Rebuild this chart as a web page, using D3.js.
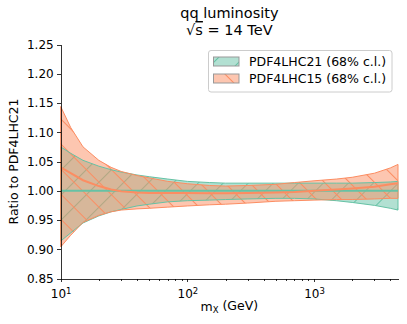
<!DOCTYPE html>
<meta charset="utf-8">
<style>
body { margin: 0; background: white; font-family: "DejaVu Sans", sans-serif; }
.axis path,
.axis line {
  fill: none;
  stroke: black;
  stroke-width: 0.8;
  shape-rendering: crispEdges;
}
.axis text { font-family: "DejaVu Sans", sans-serif; font-size: 12px; fill: black; }
</style>
<script src="https://d3js.org/d3.v7.min.js"></script>
<body>
<div id="chart"></div>
<script>
// invariant mass grid (GeV)
var mass = [10, 12, 15, 20, 25, 30, 40, 50, 70, 100, 150, 200, 300, 500, 700, 1000, 1500, 2000, 3000, 4000, 4600];

// PDF4LHC21, ratio to itself
var pdf21Central = [1, 1, 1, 1, 1, 1, 1, 1, 1, 1, 1, 1, 1, 1, 1, 1, 1, 1, 1, 1, 1];
var pdf21Upper = [1.075, 1.064, 1.052, 1.042, 1.036, 1.032, 1.027, 1.024, 1.020, 1.016, 1.014, 1.013, 1.013, 1.013, 1.013, 1.013, 1.013, 1.013, 1.014, 1.015, 1.016];
var pdf21Lower = [0.914, 0.928, 0.945, 0.957, 0.964, 0.968, 0.974, 0.977, 0.981, 0.983, 0.984, 0.985, 0.986, 0.987, 0.987, 0.986, 0.983, 0.980, 0.975, 0.970, 0.967];

// PDF4LHC15, ratio to PDF4LHC21
var pdf15Central = [1.040, 1.030, 1.018, 1.008, 1.002, 0.999, 0.997, 0.996, 0.996, 0.996, 0.9957, 0.9957, 0.996, 0.997, 0.998, 1.000, 1.002, 1.004, 1.007, 1.011, 1.013];
var pdf15Upper = [1.144, 1.108, 1.075, 1.052, 1.040, 1.033, 1.026, 1.022, 1.016, 1.012, 1.009, 1.008, 1.009, 1.011, 1.014, 1.017, 1.020, 1.023, 1.030, 1.039, 1.045];
var pdf15Lower = [0.904, 0.924, 0.946, 0.958, 0.964, 0.967, 0.969, 0.970, 0.972, 0.974, 0.976, 0.977, 0.979, 0.982, 0.983, 0.984, 0.985, 0.985, 0.986, 0.987, 0.987];

var yTicks = [0.85, 0.90, 0.95, 1.00, 1.05, 1.10, 1.15, 1.20, 1.25];
var xMajor = [10, 100, 1000];
var xMinor = [20, 30, 40, 50, 60, 70, 80, 90, 200, 300, 400, 500, 600, 700, 800, 900, 2000, 3000, 4000];
var legendNames = ["PDF4LHC21 (68% c.l.)", "PDF4LHC15 (68% c.l.)"];

var green = "#66c2a5", orange = "#fc8d62";

// set the dimensions and margins of the graph
var W = 407, H = 324;
var margin = {top: 44.5, right: 9, bottom: 45.5, left: 60.7},
    width = W - margin.left - margin.right,
    height = H - margin.top - margin.bottom;

var svgRoot = d3.select("#chart")
  .append("svg")
    .attr("width", W)
    .attr("height", H);

var defs = svgRoot.append("defs");

// hatch patterns, "/" for 21 and "\" for 15
function hatch(id, color, angle) {
  var p = defs.append("pattern")
    .attr("id", id)
    .attr("patternUnits", "userSpaceOnUse")
    .attr("width", 17.7)
    .attr("height", 17.7)
    .attr("patternTransform", "rotate(" + angle + ")");
  p.append("line")
    .attr("x1", 0.5).attr("y1", 0)
    .attr("x2", 0.5).attr("y2", 17.7)
    .attr("stroke", color)
    .attr("stroke-width", 1);
}
hatch("hatch21", green, 45);
hatch("hatch15", orange, -45);

var svg = svgRoot.append("g")
    .attr("transform", "translate(" + margin.left + "," + margin.top + ")");

var x = d3.scaleLog().domain([10, 4600]).range([0, width]);
var y = d3.scaleLinear().domain([0.85, 1.25]).range([height, 0]);

var bands = [
  {c: pdf21Central, up: pdf21Upper, lo: pdf21Lower, color: green, hatch: "hatch21"},
  {c: pdf15Central, up: pdf15Upper, lo: pdf15Lower, color: orange, hatch: "hatch15"}
];

var area = d3.area()
  .x(function(d) { return x(d.m); })
  .y0(function(d) { return y(d.lo); })
  .y1(function(d) { return y(d.up); });

var line = d3.line()
  .x(function(d) { return x(d.m); })
  .y(function(d) { return y(d.v); });

function rows(b) {
  return mass.map(function(m, i) { return {m: m, lo: b.lo[i], up: b.up[i]}; });
}

// fills and hatching
bands.forEach(function(b) {
  var r = rows(b);
  svg.append("path").datum(r)
    .attr("d", area)
    .attr("fill", b.color)
    .attr("fill-opacity", 0.5);
  svg.append("path").datum(r)
    .attr("d", area)
    .attr("fill", "url(#" + b.hatch + ")");
});

// band outlines
bands.forEach(function(b) {
  svg.append("path").datum(rows(b))
    .attr("d", area)
    .attr("fill", "none")
    .attr("stroke", b.color)
    .attr("stroke-width", 1);
});

// central values
bands.forEach(function(b) {
  svg.append("path")
    .datum(mass.map(function(m, i) { return {m: m, v: b.c[i]}; }))
    .attr("d", line)
    .attr("fill", "none")
    .attr("stroke", b.color)
    .attr("stroke-width", 2);
});

// Y axis
svg.append("g")
  .attr("class", "axis")
  .call(d3.axisLeft(y).tickValues(yTicks).tickFormat(d3.format(".2f"))
    .tickSize(3.5).tickSizeOuter(0).tickPadding(3.5));

// X axis, major ticks
var xAxis = svg.append("g")
  .attr("class", "axis")
  .attr("transform", "translate(0," + height + ")")
  .call(d3.axisBottom(x).tickValues(xMajor).tickFormat(function() { return ""; })
    .tickSize(3.5).tickSizeOuter(0).tickPadding(3.5));

xAxis.selectAll(".tick text")
  .attr("dy", "1.05em")
  .each(function(d) {
    var t = d3.select(this);
    t.append("tspan").text("10");
    t.append("tspan").attr("dy", "-0.45em").style("font-size", "8.5px")
      .text(Math.round(Math.log10(d)));
  });

// minor ticks
svg.append("g")
  .attr("class", "axis")
  .attr("transform", "translate(0," + height + ")")
  .call(d3.axisBottom(x).tickValues(xMinor).tickFormat("").tickSize(2).tickSizeOuter(0))
  .select(".domain").remove();

// axis labels
var xl = svgRoot.append("text")
  .attr("x", margin.left + width / 2)
  .attr("y", 311)
  .attr("text-anchor", "middle")
  .style("font-size", "12.5px");
xl.append("tspan").text("m");
xl.append("tspan").attr("dy", "0.25em").style("font-size", "8.5px").text("X");
xl.append("tspan").attr("dy", "-0.25em").text(" (GeV)");

svgRoot.append("text")
  .attr("transform", "translate(18," + (margin.top + height / 2) + ") rotate(-90)")
  .attr("text-anchor", "middle")
  .style("font-size", "12.5px")
  .text("Ratio to PDF4LHC21");

// title
svgRoot.append("text")
  .attr("x", margin.left + width / 2)
  .attr("y", 17.5)
  .attr("text-anchor", "middle")
  .style("font-size", "14.5px")
  .text("qq luminosity");

var t2 = svgRoot.append("text")
  .attr("x", margin.left + width / 2)
  .attr("y", 35)
  .attr("text-anchor", "middle")
  .style("font-size", "14.5px");
t2.append("tspan").text("\u221A");
t2.append("tspan").style("text-decoration", "overline").text("s");
t2.append("tspan").text(" = 14 TeV");

// legend
var legend = svgRoot.append("g");
legend.append("rect")
  .attr("x", 208.5).attr("y", 50.5)
  .attr("width", 183.5).attr("height", 41.5)
  .attr("rx", 2.5)
  .attr("fill", "white").attr("fill-opacity", 0.8)
  .attr("stroke", "#cccccc").attr("stroke-width", 1);

legendNames.forEach(function(name, i) {
  var b = bands[i];
  var gy = 57 + i * 17;
  legend.append("rect")
    .attr("x", 213.5).attr("y", gy)
    .attr("width", 25.5).attr("height", 9)
    .attr("fill", b.color).attr("fill-opacity", 0.5);
  legend.append("rect")
    .attr("x", 213.5).attr("y", gy)
    .attr("width", 25.5).attr("height", 9)
    .attr("fill", "url(#" + b.hatch + ")")
    .attr("stroke", "#999999").attr("stroke-width", 1);
  legend.append("text")
    .attr("x", 249).attr("y", gy + 9)
    .style("font-size", "12.5px")
    .text(name);
});
</script>
